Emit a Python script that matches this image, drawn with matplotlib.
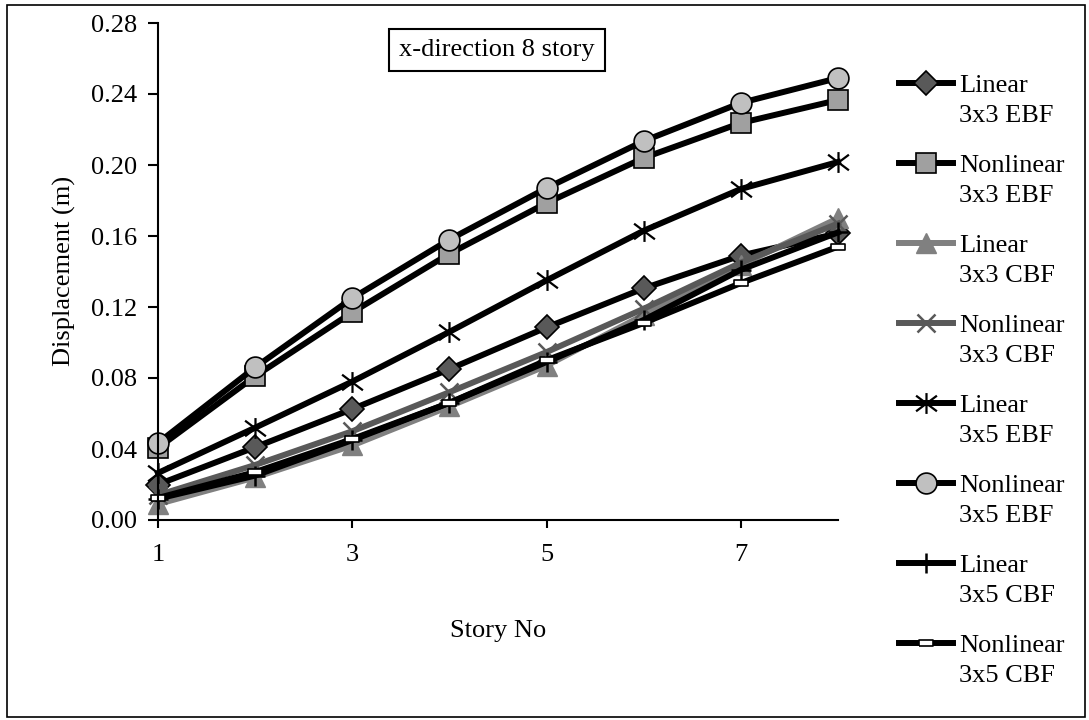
import matplotlib
matplotlib.use("Agg")
import matplotlib.pyplot as plt
from matplotlib.path import Path
from matplotlib.patches import Rectangle

plt.rcParams['font.family'] = ['Liberation Serif', 'DejaVu Serif']

stories = [1, 2, 3, 4, 5, 6, 7, 8]

lin_33_ebf = [0.020, 0.041, 0.0625, 0.085, 0.1085, 0.1305, 0.149, 0.1615]
non_33_ebf = [0.0406, 0.081, 0.117, 0.150, 0.1786, 0.204, 0.2237, 0.2366]
lin_33_cbf = [0.009, 0.024, 0.042, 0.064, 0.087, 0.1155, 0.1437, 0.170]
non_33_cbf = [0.014, 0.031, 0.050, 0.072, 0.0946, 0.119, 0.145, 0.167]
lin_35_ebf = [0.0265, 0.052, 0.078, 0.106, 0.135, 0.163, 0.1865, 0.2017]
non_35_ebf = [0.0434, 0.086, 0.125, 0.158, 0.187, 0.2135, 0.235, 0.249]
lin_35_cbf = [0.012, 0.025, 0.045, 0.066, 0.089, 0.1127, 0.141, 0.162]
non_35_cbf = [0.0124, 0.027, 0.0456, 0.066, 0.090, 0.111, 0.1335, 0.154]

first_lines = ["Linear", "Nonlinear", "Linear", "Nonlinear",
               "Linear", "Nonlinear", "Linear", "Nonlinear"]
second_lines = ["3x3 EBF", "3x3 EBF", "3x3 CBF", "3x3 CBF",
                "3x5 EBF", "3x5 EBF", "3x5 CBF", "3x5 CBF"]

yticks = [0.00, 0.04, 0.08, 0.12, 0.16, 0.20, 0.24, 0.28]
xticks = [1, 3, 5, 7]

FS = 19

# custom markers
asterisk = Path([(0, -1), (0, 1), (-1, -0.75), (1, 0.75), (-1, 0.75), (1, -0.75)],
                [Path.MOVETO, Path.LINETO, Path.MOVETO, Path.LINETO, Path.MOVETO, Path.LINETO])
dash = [(-1, -0.4), (1, -0.4), (1, 0.4), (-1, 0.4), (-1, -0.4)]

fig = plt.figure(figsize=(10.89, 7.2), dpi=100)
fig.patches.append(Rectangle((7 / 1089, 3 / 720), 1078 / 1089, 712 / 720,
                             transform=fig.transFigure, fill=False,
                             edgecolor="black", linewidth=1.2))

ax = fig.add_axes([158 / 1089, 200 / 720, 680 / 1089, 497 / 720])

lw = 4.3
styles = [
    (lin_33_ebf, dict(color="black", marker="D", ms=12, mfc="#595959", mec="black", mew=1.2)),
    (non_33_ebf, dict(color="black", marker="s", ms=14, mfc="#a0a0a0", mec="black", mew=1.2)),
    (lin_33_cbf, dict(color="#808080", marker="^", ms=14, mfc="#808080", mec="#808080", mew=1)),
    (non_33_cbf, dict(color="#595959", marker="x", ms=13, mfc="#595959", mec="#595959", mew=1.8)),
    (lin_35_ebf, dict(color="black", marker=asterisk, ms=15, mec="black", mew=1.6)),
    (non_35_ebf, dict(color="black", marker="o", ms=15, mfc="#c0c0c0", mec="black", mew=1.2)),
    (lin_35_cbf, dict(color="black", marker="+", ms=15, mec="black", mew=1.8)),
    (non_35_cbf, dict(color="black", marker=dash, ms=10, mfc="white", mec="black", mew=1.2)),
]

handles = []
for (vals, st), lab in zip(styles, first_lines):
    h, = ax.plot(stories, vals, lw=lw, label=lab, clip_on=False, **st)
    handles.append(h)

ax.set_xlim(1, 8)
ax.set_ylim(0, 0.28)
ax.set_xticks(xticks)
ax.set_yticks(yticks)
ax.set_yticklabels([f"{v:.2f}" for v in yticks])
ax.tick_params(axis="both", labelsize=FS, width=1.5, direction="out")
ax.tick_params(axis="y", length=7, pad=8)
ax.tick_params(axis="x", length=6, pad=11)
for s in ["top", "right"]:
    ax.spines[s].set_visible(False)
for s in ["left", "bottom"]:
    ax.spines[s].set_linewidth(1.5)

fig.text(64 / 1089, 1 - 271 / 720, "Displacement (m)", rotation=90,
         ha="center", va="center", fontsize=FS)
fig.text(498 / 1089, 1 - 631 / 720, "Story No", ha="center", va="center", fontsize=FS)

fig.text(497 / 1089, 1 - 50 / 720, "x-direction 8 story", ha="center", va="center",
         fontsize=FS, bbox=dict(boxstyle="square,pad=0.38", fc="white", ec="black", lw=1.5))

leg = fig.legend(handles=handles, labels=first_lines, loc="upper left",
                 bbox_to_anchor=(899 / 1089, 1 - 74 / 720), frameon=False,
                 fontsize=FS, numpoints=1, handlelength=2.05, handletextpad=0.24,
                 labelspacing=2.14, borderpad=0, borderaxespad=0)
for t, sec in zip(leg.get_texts(), second_lines):
    fig.add_artist(plt.Annotation(sec, xy=(0, 0), xycoords=t, xytext=(0, -25),
                                  textcoords="offset pixels", ha="left", va="baseline",
                                  fontsize=FS, zorder=10))

fig.savefig("out.png", dpi=100)
